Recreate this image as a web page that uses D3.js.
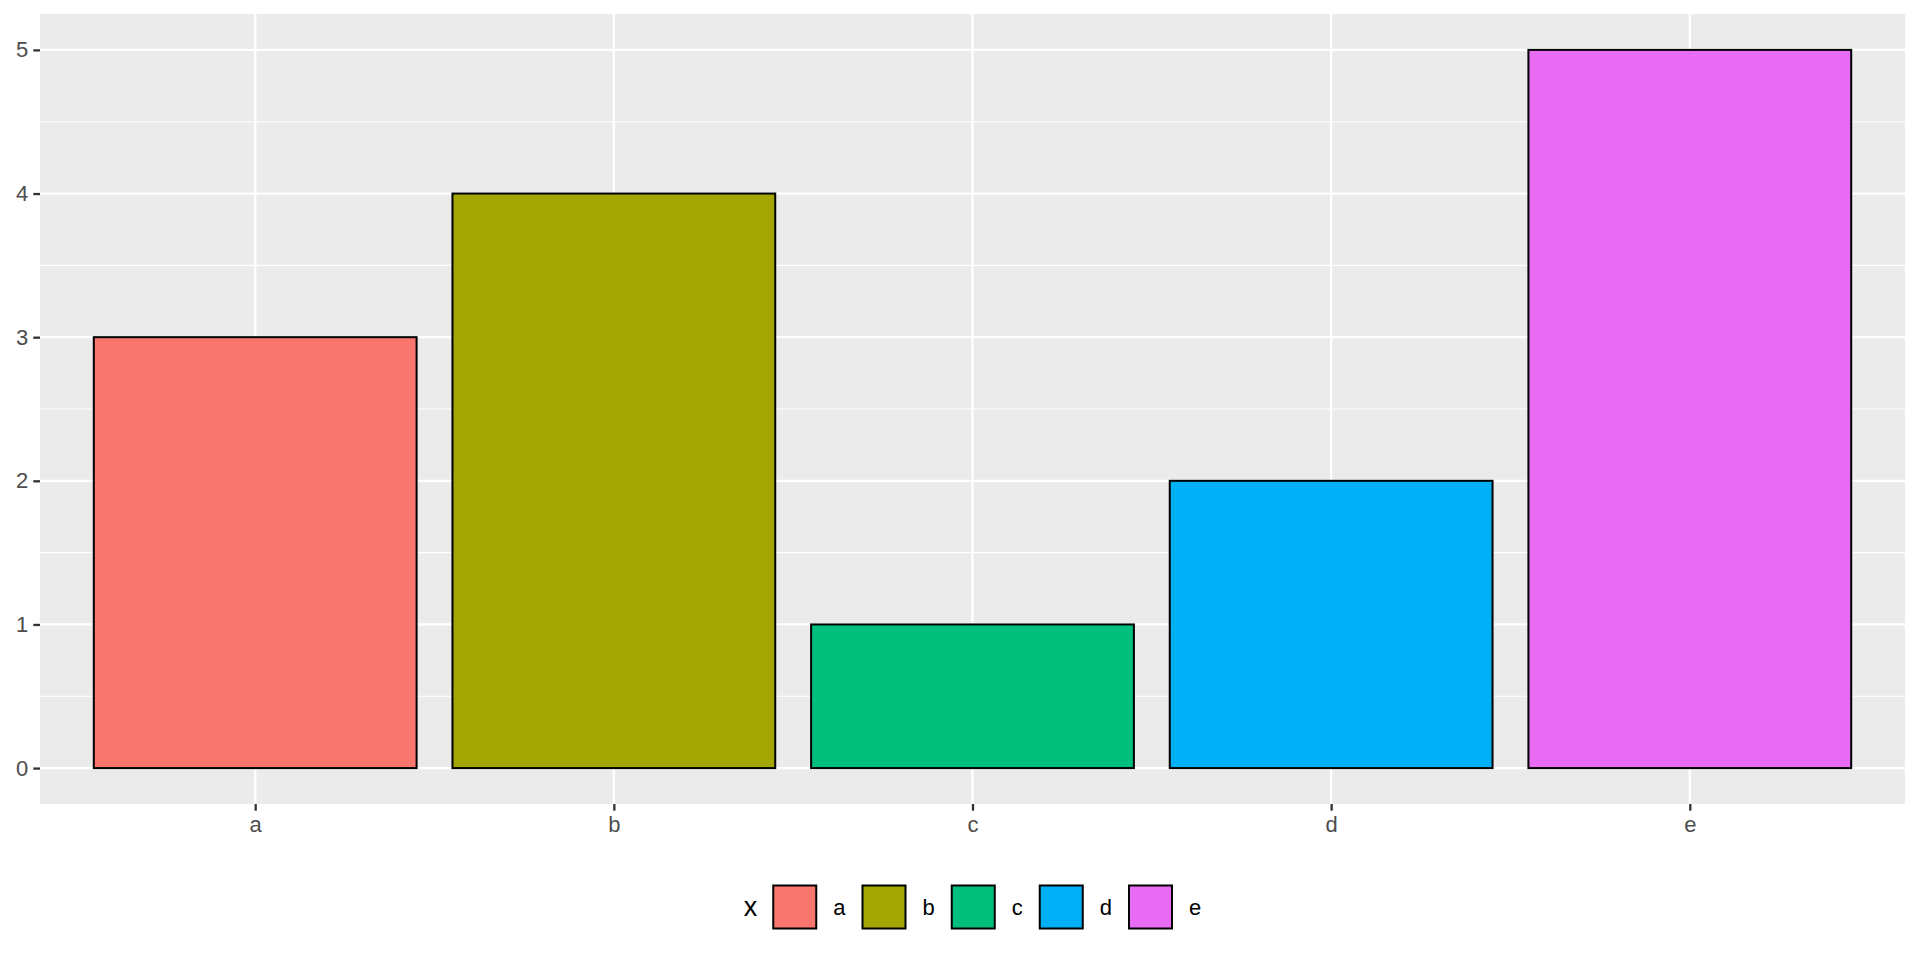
<!DOCTYPE html>
<html>
<head>
<meta charset="utf-8">
<script src="https://cdn.jsdelivr.net/npm/d3@7"></script>
<style>
  html, body { margin: 0; padding: 0; background: #fff; }
  svg { display: block; font-family: "Liberation Sans", Arial, sans-serif; }
</style>
</head>
<body>
<svg id="chart" width="1920" height="960"></svg>
<script>
const categories = ["a", "b", "c", "d", "e"];
const values = [3, 4, 1, 2, 5];
const colors = ["#F8766D", "#A3A500", "#00BF7D", "#00B0F6", "#E76BF3"];
const yTicks = [0, 1, 2, 3, 4, 5];
const yMinor = [0.5, 1.5, 2.5, 3.5, 4.5];
const legendTitle = "x";

const svg = d3.select("#chart");
const panel = { left: 40, right: 1905, top: 14, bottom: 804 };

const xPos = d3.scaleLinear().domain([0.4, categories.length + 0.6]).range([panel.left, panel.right]);
const x = c => xPos(categories.indexOf(c) + 1);
const y = d3.scaleLinear().domain([-0.25, 5.25]).range([panel.bottom, panel.top]);

svg.append("rect")
  .attr("x", panel.left).attr("y", panel.top)
  .attr("width", panel.right - panel.left).attr("height", panel.bottom - panel.top)
  .attr("fill", "#EBEBEB");

svg.append("g").selectAll("line").data(yMinor).join("line")
  .attr("x1", panel.left).attr("x2", panel.right)
  .attr("y1", d => y(d)).attr("y2", d => y(d))
  .attr("stroke", "#fff").attr("stroke-width", 1.2);

svg.append("g").selectAll("line").data(yTicks).join("line")
  .attr("x1", panel.left).attr("x2", panel.right)
  .attr("y1", d => y(d)).attr("y2", d => y(d))
  .attr("stroke", "#fff").attr("stroke-width", 2.3);
svg.append("g").selectAll("line").data(categories).join("line")
  .attr("x1", d => x(d)).attr("x2", d => x(d))
  .attr("y1", panel.top).attr("y2", panel.bottom)
  .attr("stroke", "#fff").attr("stroke-width", 2.3);

const bw = xPos(1.9) - xPos(1);
svg.append("g").selectAll("rect").data(categories).join("rect")
  .attr("x", d => x(d) - bw / 2)
  .attr("width", bw)
  .attr("y", (d, i) => y(values[i]))
  .attr("height", (d, i) => y(0) - y(values[i]))
  .attr("fill", (d, i) => colors[i])
  .attr("stroke", "#000").attr("stroke-width", 2);

const yAxis = d3.axisLeft(y).tickValues(yTicks).tickSize(6.7).tickPadding(5).tickFormat(d3.format("d"));
const gy = svg.append("g").attr("transform", `translate(${panel.left},0)`).call(yAxis);
gy.select(".domain").remove();
gy.selectAll(".tick line").attr("stroke", "#333").attr("stroke-width", 2.3);
gy.selectAll(".tick text").attr("fill", "#4D4D4D").style("font-size", "22px")
  .style("font-family", "'Liberation Sans', Arial, sans-serif");

const xAxisScale = d3.scalePoint().domain(categories).range([x(categories[0]), x(categories[categories.length - 1])]);
const xAxis = d3.axisBottom(xAxisScale).tickSize(6.7).tickPadding(6);
const gx = svg.append("g").attr("transform", `translate(0,${panel.bottom})`).call(xAxis);
gx.select(".domain").remove();
gx.selectAll(".tick line").attr("stroke", "#333").attr("stroke-width", 2.3);
gx.selectAll(".tick text").attr("fill", "#4D4D4D").style("font-size", "22px")
  .style("font-family", "'Liberation Sans', Arial, sans-serif");

const keySize = 43;
const legY = 907;
const lg = svg.append("g");
const title = lg.append("text").text(legendTitle)
  .attr("font-size", 27).attr("fill", "#000").attr("dominant-baseline", "central").attr("y", legY);
const tW = title.node().getComputedTextLength();
const labels = categories.map(c => {
  const t = lg.append("text").text(c).attr("font-size", 22).attr("fill", "#000")
    .attr("dominant-baseline", "central").attr("y", legY);
  return { t, w: t.node().getComputedTextLength() };
});
const gapTitle = 16, gapLabel = 17, gapItem = 17;
let total = tW + gapTitle;
labels.forEach((l, i) => { total += keySize + gapLabel + l.w + (i < labels.length - 1 ? gapItem : 0); });
let cx = (panel.left + panel.right) / 2 - total / 2;
title.attr("x", cx);
cx += tW + gapTitle;
categories.forEach((c, i) => {
  lg.append("rect").attr("x", cx).attr("y", legY - keySize / 2)
    .attr("width", keySize).attr("height", keySize)
    .attr("fill", colors[i]).attr("stroke", "#000").attr("stroke-width", 2);
  cx += keySize + gapLabel;
  labels[i].t.attr("x", cx);
  cx += labels[i].w + gapItem;
});
</script>
</body>
</html>
